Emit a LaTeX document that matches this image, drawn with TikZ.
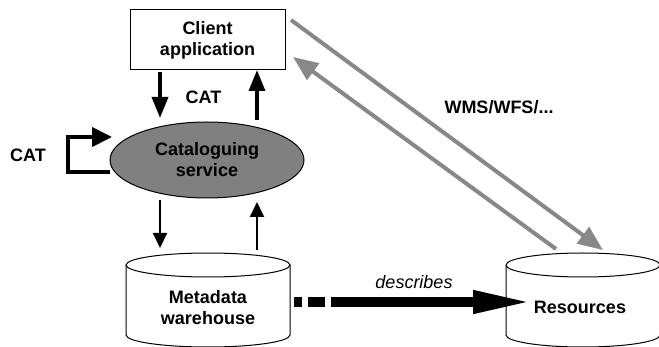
\documentclass[tikz,border=0pt]{standalone}
\usepackage{fontspec}
\setmainfont{Liberation Sans}
\usetikzlibrary{arrows.meta,shapes.geometric}
\definecolor{ellgray}{RGB}{128,128,128}
\definecolor{arrgray}{RGB}{136,136,136}
\begin{document}
\begin{tikzpicture}[x=1pt,y=-1pt,
  txt/.style={font=\fontsize{18}{21}\selectfont\bfseries, align=center, inner sep=0pt},
  thickarr/.style={line width=3.5pt, -{Triangle[length=21pt,width=16pt]}},
  thinarr/.style={line width=2pt, -{Triangle[length=15pt,width=14pt]}},
  grayarr/.style={line width=4pt, draw=arrgray, -{Triangle[length=25pt,width=20pt]}, arrgray},
  cyl/.style={line width=1pt, fill=white}]
\useasboundingbox (0,0) rectangle (659,347);
% client
\node[draw, line width=1pt, minimum width=155pt, minimum height=60pt, txt] (client) at (207.5,40) {Client\\application};
% cataloguing service
\node[ellipse, draw, line width=1pt, fill=ellgray, minimum width=194pt, minimum height=76pt, txt] (cat) at (207,160) {Cataloguing\\service};
% metadata cylinder
\draw[cyl] (126,265) -- (126,335) arc[start angle=180, end angle=360, x radius=82, y radius=-12] -- (290,265) arc[start angle=0, end angle=180, x radius=82, y radius=-12] -- cycle;
\draw[line width=1pt] (126,265) arc[start angle=180, end angle=360, x radius=82, y radius=-12];
\node[txt] (meta) at (208,307.5) {Metadata\\warehouse};
% resources cylinder
\draw[cyl] (506,265) -- (506,335) arc[start angle=180, end angle=360, x radius=77, y radius=-12] -- (660,265) arc[start angle=0, end angle=180, x radius=77, y radius=-12] -- cycle;
\draw[line width=1pt] (506,265) arc[start angle=180, end angle=360, x radius=77, y radius=-12];
\node[txt] (res) at (580,307) {Resources};
% labels
\node[txt] (cat1) at (203.5,97) {CAT};
\node[txt] (cat2) at (28,155) {CAT};
\node[txt] (wms) at (499,107) {WMS/WFS/...};
\node[font=\fontsize{18}{21}\selectfont\itshape, inner sep=0pt] (desc) at (414,282) {describes};
% coordinates
\coordinate (c1) at (160,72);
\coordinate (e1) at (160,118);
\coordinate (e2) at (257,120);
\coordinate (c2) at (257,70);
\coordinate (e3) at (160,200);
\coordinate (m1) at (160,248);
\coordinate (m2) at (257,250);
\coordinate (e4) at (257,202);
\coordinate (l1) at (110,172);
\coordinate (l2) at (112,137);
\coordinate (g1s) at (291,20);
\coordinate (g1e) at (603,250);
\coordinate (g2s) at (556,249);
\coordinate (g2e) at (293,57);
\coordinate (d1) at (294,302);
\coordinate (d2) at (533,302);
% arrows
\draw[thickarr] (c1) -- (e1);
\draw[thickarr] (e2) -- (c2);
\draw[thinarr] (e3) -- (m1);
\draw[thinarr] (m2) -- (e4);
\draw[line width=4pt, -{Triangle[length=20pt,width=19pt]}] (l1) -- (68,172) -- (68,137) -- (l2);
\draw[grayarr] (g1s) -- (g1e);
\draw[grayarr] (g2s) -- (g2e);
\draw[line width=10pt, dash pattern=on 8pt off 6pt on 17pt off 6pt on 400pt, -{Triangle[length=60pt,width=21pt]}] (d1) -- (d2);
\end{tikzpicture}
\end{document}
